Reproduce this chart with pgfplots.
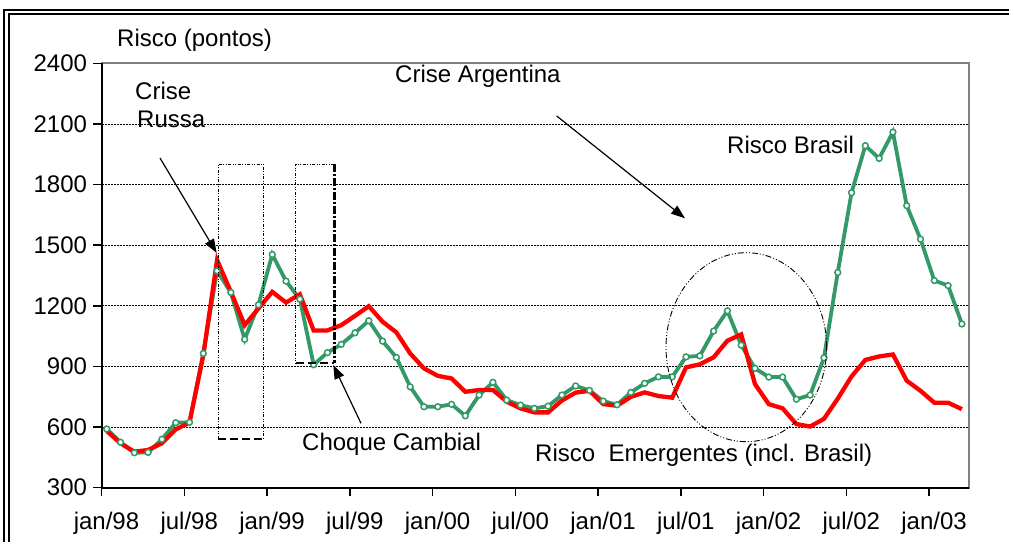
\documentclass[border=0pt]{standalone}
\usepackage{fontspec}
\setmainfont{Liberation Sans}
\usepackage{pgfplots}
\pgfplotsset{compat=1.18}
\usetikzlibrary{arrows.meta}
\definecolor{verde}{RGB}{51,153,102}
\definecolor{cinza}{RGB}{128,128,128}
\newcommand{\fs}{\fontsize{24}{28}\selectfont}

\begin{document}
\begin{tikzpicture}
\useasboundingbox (0,0) rectangle (1009pt,541pt);
\begin{axis}[
  at={(101.5pt,53.5pt)}, anchor=south west,
  scale only axis, width=867pt, height=424pt,
  xmin=-0.38, xmax=62.48, ymin=300, ymax=2400,
  xtick={-0.38,5.62,11.62,17.62,23.62,29.62,35.62,41.62,47.62,53.62,59.62},
  xticklabels={jan/98,jul/98,jan/99,jul/99,jan/00,jul/00,jan/01,jul/01,jan/02,jul/02,jan/03},
  ytick={300,600,900,1200,1500,1800,2100,2400},
  /pgf/number format/assume math mode=true,
  /pgf/number format/set thousands separator={},
  tick label style={font=\fs},
  xticklabel style={xshift=5pt, yshift=-13pt},
  yticklabel style={xshift=-3pt},
  tick pos=left, tick align=outside, major tick length=8pt,
  tick style={black, line width=1.5pt},
  ymajorgrids,
  grid style={black, line width=0.8pt, dash pattern=on 2pt off 1pt},
  axis line style={cinza, line width=2pt},
  clip=false,
]
\addplot[verde, line width=3.8pt, mark=*, mark size=2.9pt,
  mark options={fill=white, draw=verde, line width=1.5pt}] coordinates {
(0,590)(1,524)(2,472)(3,474)(4,539)(5,621)(6,623)(7,964)(8,1373)(9,1266)
(10,1034)(11,1205)(12,1454)(13,1322)(14,1233)(15,908)(16,968)(17,1009)(18,1066)(19,1126)
(20,1025)(21,944)(22,799)(23,700)(24,700)(25,712)(26,655)(27,758)(28,821)(29,733)
(30,708)(31,692)(32,703)(33,758)(34,803)(35,781)(36,728)(37,710)(38,771)(39,816)
(40,848)(41,848)(42,947)(43,952)(44,1075)(45,1175)(46,1005)(47,890)(48,847)(49,847)
(50,737)(51,758)(52,942)(53,1365)(54,1760)(55,1993)(56,1930)(57,2060)(58,1696)(59,1530)
(60,1325)(61,1300)(62,1110)};
\addplot[red, line width=4.3pt, mark=none] coordinates {
(0,580)(1,519)(2,477)(3,486)(4,519)(5,588)(6,621)(7,955)(8,1426)(9,1269)
(10,1104)(11,1187)(12,1269)(13,1216)(14,1257)(15,1078)(16,1078)(17,1104)(18,1150)(19,1198)
(20,1121)(21,1068)(22,964)(23,890)(24,853)(25,840)(26,774)(27,783)(28,783)(29,725)
(30,692)(31,672)(32,672)(33,731)(34,770)(35,779)(36,713)(37,705)(38,749)(39,771)
(40,753)(41,745)(42,895)(43,910)(44,945)(45,1027)(46,1058)(47,812)(48,713)(49,692)
(50,614)(51,602)(52,640)(53,740)(54,850)(55,932)(56,949)(57,959)(58,829)(59,779)
(60,720)(61,720)(62,688)};
\draw[black, line width=2pt] (rel axis cs:0,1) -- (rel axis cs:0,0) -- (rel axis cs:1,0);
\end{axis}

% annotations, in pixel-like coordinates (y downwards)
\begin{scope}[x=1pt, y=-1pt, yshift=541pt, font=\fs]
  % outer frame
  \draw[black, line width=1.5pt] (4,545) -- (4,10) -- (1015,10);
  \draw[black, line width=2pt] (9,545) -- (9,14) -- (1015,14);
  % texts
  \node[anchor=base west, inner sep=0] at (117,46.7) {Risco (pontos)};
  \node[anchor=base west, inner sep=0] at (135,100) {Crise};
  \node[anchor=base west, inner sep=0] at (137,128) {Russa};
  \node[anchor=base west, inner sep=0] at (395,82.3) {Crise Argentina};
  \node[anchor=base west, inner sep=0] at (727,153.3) {Risco Brasil};
  \node[anchor=base west, inner sep=0] at (302,450) {Choque Cambial};
  \node[anchor=base west, inner sep=0] at (535,461) {Risco\ \ Emergentes (incl. Brasil)};
  % arrows
  \draw[line width=1.2pt, -{Triangle[length=14pt,width=10pt]}] (160,158) -- (216.7,253);
  \draw[line width=1.2pt, -{Triangle[length=14pt,width=10pt]}] (556.7,116) -- (685,218.3);
  \draw[line width=1.2pt, -{Triangle[length=14pt,width=10pt]}] (361,423.3) -- (333.3,365);
  % Crise Russa box
  \draw[black, line width=0.7pt, dash pattern=on 3pt off 1.5pt on 1pt off 1.5pt on 1pt off 1.5pt]
    (218,439) -- (218,164) -- (263,164) -- (263,439);
  \draw[black, line width=2.2pt, dash pattern=on 8pt off 4pt] (218,439) -- (263,439);
  % Choque Cambial box
  \draw[black, line width=0.7pt, dash pattern=on 3pt off 1.5pt on 1pt off 1.5pt on 1pt off 1.5pt]
    (334.3,164) -- (295.7,164) -- (295.7,363.3);
  \draw[black, line width=2.4pt, dash pattern=on 8pt off 2pt on 2pt off 2pt] (334.3,164) -- (334.3,363.3);
  \draw[black, line width=2.2pt, dash pattern=on 8pt off 4pt] (295.7,363.3) -- (334.3,363.3);
  % ellipse round the 2001 peak
  \draw[black, line width=0.9pt, dash pattern=on 6pt off 2pt on 1pt off 2pt on 1pt off 2pt]
    (746.3,347.2) ellipse [x radius=80.3pt, y radius=94.5pt];
\end{scope}
\end{tikzpicture}
\end{document}
